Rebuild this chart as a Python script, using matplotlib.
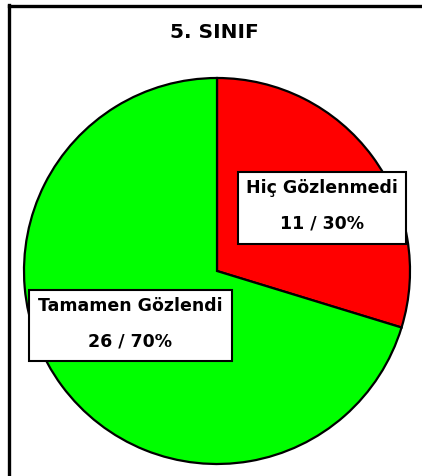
import matplotlib
matplotlib.use("Agg")
import matplotlib.pyplot as plt
from matplotlib.patches import Rectangle
from matplotlib.lines import Line2D

# data
labels = ["Hiç Gözlenmedi", "Tamamen Gözlendi"]
values = [11, 26]
colors = ["#ff0000", "#00ff00"]
title = "5. SINIF"

W, H = 422, 476


def fx(px):
    return px / W


def fy(py):
    return 1 - py / H


fig = plt.figure(figsize=(W / 100, H / 100), dpi=100)
fig.patch.set_facecolor("white")

# frame (only left and top edges are inside the picture)
fig.add_artist(Line2D([fx(8.5), fx(8.5)], [fy(5), 0], color="black", lw=2.4))
fig.add_artist(Line2D([fx(8.5), 1], [fy(5.5), fy(5.5)], color="black", lw=2.4))

fig.text(fx(214.5), fy(33), title, ha="center", va="center",
         fontsize=14.5, fontweight="bold", family="DejaVu Sans")

# pie: centre (217, 271), radius 193 px
cx, cy, r = 217, 271, 193
ax = fig.add_axes([fx(cx - r), fy(cy + r), 2 * r / W, 2 * r / H])
ax.pie(values, colors=colors, startangle=90, counterclock=False, radius=1,
       wedgeprops=dict(edgecolor="black", linewidth=1.6))
ax.set_xlim(-1, 1)
ax.set_ylim(-1, 1)
ax.set_axis_off()

total = sum(values)
# label boxes (left, top, right, bottom in px)
boxes = [(238, 172, 406, 244), (29, 290, 232, 361)]
for lab, v, (x0, y0, x1, y1) in zip(labels, values, boxes):
    pct = round(v / total * 100)
    fig.add_artist(Rectangle((fx(x0), fy(y1)), fx(x1) - fx(x0), fy(y0) - fy(y1),
                             transform=fig.transFigure, facecolor="white",
                             edgecolor="black", lw=1.5))
    xc = (x0 + x1) / 2
    fig.text(fx(xc), fy(y0 + 16), lab, ha="center", va="center",
             fontsize=12.5, fontweight="bold", family="DejaVu Sans")
    fig.text(fx(xc), fy(y0 + 51), f"{v} / {pct}%", ha="center", va="center",
             fontsize=12.5, fontweight="bold", family="DejaVu Sans")

fig.savefig("out.png", dpi=100)
